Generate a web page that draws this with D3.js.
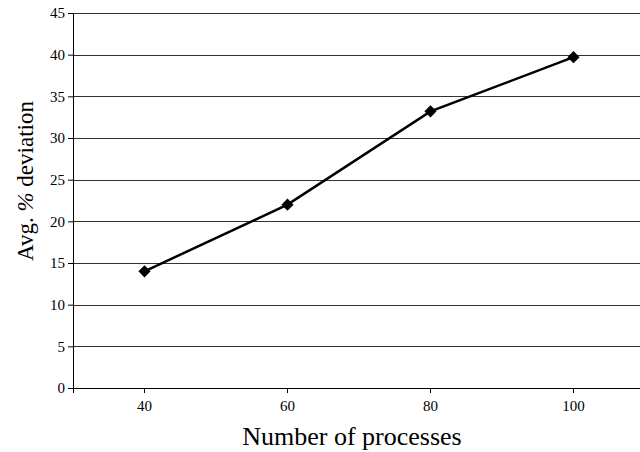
<!DOCTYPE html>
<html>
<head>
<meta charset="utf-8">
<script src="https://cdn.jsdelivr.net/npm/d3@7"></script>
<style>
  body { margin: 0; background: #fff; }
  text { font-family: "Liberation Serif", "Times New Roman", serif; fill: #000; }
</style>
</head>
<body>
<div id="chart-area"></div>
<script>
// data
var processes = ["40", "60", "80", "100"];
var deviation = [14, 22, 33.2, 39.7];
var yTicks = [0, 5, 10, 15, 20, 25, 30, 35, 40, 45];

var margin = {top: 13, left: 73, bottom: 64, right: -5};
var width = 640 - margin.left - margin.right;
var height = 452 - margin.top - margin.bottom;

var svg = d3.select("#chart-area")
	.append("svg")
		.attr("width", 640)
		.attr("height", 452);

var g = svg.append("g")
		.attr("transform", "translate(" + margin.left + ", " + margin.top + ")");

// scales
var x = d3.scaleBand()
	.domain(processes)
	.range([0, width]);

var y = d3.scaleLinear()
	.domain([0, 45])
	.range([height, 0]);

// gridlines
g.append("g")
	.selectAll("line")
	.data(yTicks.slice(1))
	.enter().append("line")
		.attr("x1", 0)
		.attr("x2", width)
		.attr("y1", function(d){ return Math.round(y(d)) + 0.5; })
		.attr("y2", function(d){ return Math.round(y(d)) + 0.5; })
		.attr("stroke", "#333")
		.attr("stroke-width", 1);

// X axis
var xAxisCall = d3.axisBottom(x)
	.tickSizeOuter(0)
	.tickSize(5)
	.tickPadding(7);
var xAxis = g.append("g")
	.attr("transform", "translate(0, " + height + ")")
	.call(xAxisCall);
xAxis.selectAll("text").style("font-size", "15px");

// Y axis
var yAxisCall = d3.axisLeft(y)
	.tickValues(yTicks)
	.tickSizeOuter(0)
	.tickSize(5)
	.tickPadding(3);
var yAxis = g.append("g")
	.call(yAxisCall);
yAxis.selectAll("text").style("font-size", "15px");
g.selectAll(".domain, .tick line").attr("stroke", "#000");

// line
var line = d3.line()
	.x(function(d, i){ return x(processes[i]) + x.bandwidth() / 2; })
	.y(function(d){ return y(d); });

g.append("path")
	.datum(deviation)
	.attr("fill", "none")
	.attr("stroke", "#000")
	.attr("stroke-width", 2.5)
	.attr("d", line);

// markers
g.selectAll(".marker")
	.data(deviation)
	.enter().append("path")
		.attr("class", "marker")
		.attr("d", d3.symbol().type(d3.symbolDiamond2).size(95))
		.attr("transform", function(d, i){
			return "translate(" + (x(processes[i]) + x.bandwidth() / 2) + ", " + y(d) + ")";
		})
		.attr("fill", "#000");

// X label
svg.append("text")
	.attr("x", 352)
	.attr("y", 445)
	.style("font-size", "26px")
	.attr("text-anchor", "middle")
	.text("Number of processes");

// Y label
var yLabel = svg.append("text")
	.attr("transform", "translate(33, 181) rotate(-90)")
	.style("font-size", "23px")
	.attr("text-anchor", "middle");
yLabel.append("tspan").text("Avg. ");
yLabel.append("tspan").attr("font-style", "italic").text("%");
yLabel.append("tspan").text(" deviation");
</script>
</body>
</html>
